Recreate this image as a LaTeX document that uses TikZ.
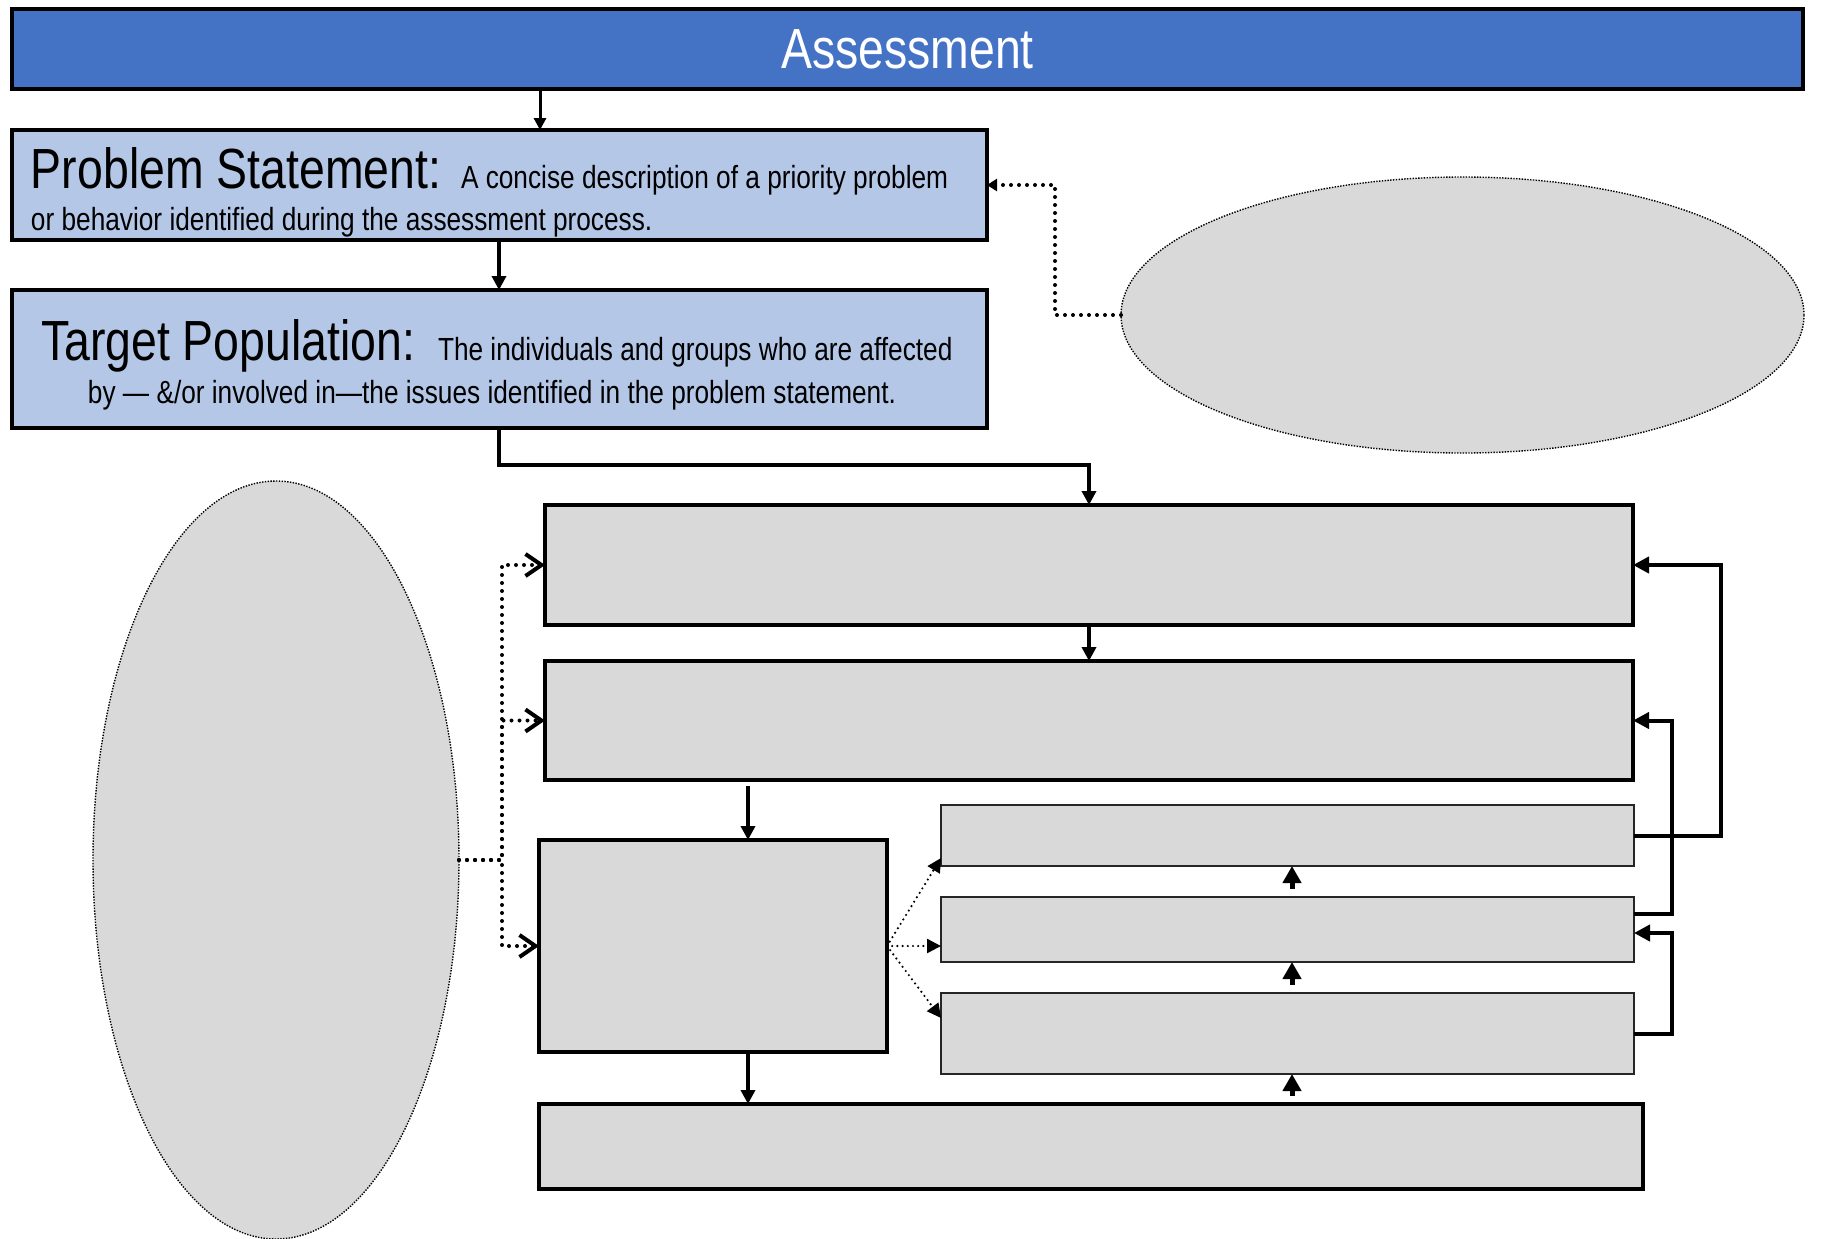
\documentclass[tikz,border=0pt]{standalone}
\usepackage{fontspec}
\setmainfont{Liberation Sans}[FakeStretch=0.82]
\usetikzlibrary{arrows.meta,shapes.geometric,calc}

\definecolor{hdrblue}{HTML}{4472C4}
\definecolor{paleblue}{HTML}{B4C7E7}
\definecolor{boxgray}{HTML}{D9D9D9}

\newcommand{\headfont}{\fontsize{28.3}{32}\selectfont}
\newcommand{\bodyfont}{\fontsize{16}{19}\selectfont}

\begin{document}
\begin{tikzpicture}[x=0.5pt,y=-0.5pt,
  frame/.style={draw=black, line width=1.8pt, inner sep=0pt, outer sep=0pt, anchor=north west},
  bluebox/.style={frame, fill=paleblue},
  graybox/.style={frame, fill=boxgray},
  slimbox/.style={frame, fill=boxgray, line width=1pt, draw=black!85},
  cloud/.style={ellipse, draw=black, fill=boxgray, line width=0.7pt,
    dash pattern=on 0.7pt off 0.7pt, inner sep=0pt, outer sep=0pt},
  txt/.style={inner sep=0pt, outer sep=0pt, anchor=base west},
  flow/.style={line width=1.5pt, -{Triangle[length=6pt,width=6pt]}},
  heavy/.style={line width=2pt, -{Triangle[length=7pt,width=7pt]}},
  loop/.style={line width=2pt, -{Triangle[length=8pt,width=8pt]}},
  stub/.style={line width=2.5pt, -{Triangle[length=8.5pt,width=9pt]}, shorten <=4pt},
  dots/.style={line cap=round, dash pattern=on 0pt off 4pt},
  fanout/.style={dots, line width=1.2pt, dash pattern=on 0pt off 2.6pt,
    -{Triangle[length=7pt,width=7pt]}},
  feed/.style={dots, line width=2pt, -{Straight Barb[length=8pt,width=11pt,line width=2pt]}},
  back/.style={dots, line width=2pt, -{Triangle[length=5pt,width=6pt]}}
]
\useasboundingbox[fill=white] (0,0) rectangle (1821,1238);

% header bar
\node[frame, fill=hdrblue, line width=2pt, minimum width=895.5pt, minimum height=40pt,
  text=white, font=\fontsize{28.3}{32}\selectfont] (bar) at (12,9) {Assessment};

% problem statement and target population
\node[bluebox, minimum width=487.5pt, minimum height=55pt] (ps) at (12,130) {};
\node[bluebox, minimum width=487.5pt, minimum height=69pt] (tp) at (12,290) {};

\node[txt] (pshead) at (31,188) {\headfont Problem Statement:};
\node[txt] (psbody1) at (461,188) {\bodyfont A concise description of a priority problem};
\node[txt] (psbody2) at (31,230) {\bodyfont or behavior identified during the assessment process.};

\node[txt] (tphead) at (41,360) {\headfont Target Population:};
\node[txt] (tpbody1) at (438,360) {\bodyfont The individuals and groups who are affected};
\node[txt, anchor=base] (tpbody2) at (492,403) {\bodyfont by — \&/or involved in—the issues identified in the problem statement.};

% lower blocks
\node[graybox, minimum width=544pt, minimum height=60pt] (b1) at (545,505) {};
\node[graybox, minimum width=544pt, minimum height=59.5pt] (b2) at (545,661) {};
\node[graybox, minimum width=174pt, minimum height=106pt] (b3) at (539,840) {};
\node[graybox, minimum width=552pt, minimum height=42.5pt] (bot) at (539,1104) {};

\node[slimbox, minimum width=346.5pt, minimum height=30.5pt] (sa) at (941,805) {};
\node[slimbox, minimum width=346.5pt, minimum height=32.5pt] (sb) at (941,897) {};
\node[slimbox, minimum width=346.5pt, minimum height=40.5pt] (sc) at (941,993) {};

% ellipses
\node[cloud, minimum width=183pt, minimum height=379pt] (lel) at (276,860) {};
\node[cloud, minimum width=341.5pt, minimum height=138pt] (rel) at (1462.5,315) {};

% helper columns
\coordinate (x540) at (540,0);
\coordinate (x499) at (499,0);
\coordinate (x748) at (748,0);
\coordinate (x1292) at (1292,0);
\coordinate (x1672) at (1672,0);
\coordinate (x1721) at (1721,0);
\coordinate (x502) at (502,0);
\coordinate (x1055) at (1055,0);

% main flow
\draw[flow] (bar.south -| x540) -- (ps.north -| x540);
\draw[heavy] (ps.south -| x499) -- (tp.north -| x499);
\draw[heavy] (tp.south -| x499) -- ++(0,37) -| (b1.north);
\draw[heavy] (b1.south) -- (b2.north);
\draw[heavy, shorten <=3pt] (b2.south -| x748) -- (b3.north -| x748);
\draw[heavy] (b3.south -| x748) -- (bot.north -| x748);

% short upward arrows in the stack
\draw[stub] (sb.north -| x1292) -- (sa.south -| x1292);
\draw[stub] (sc.north -| x1292) -- (sb.south -| x1292);
\draw[stub] (bot.north -| x1292) -- (sc.south -| x1292);

% return loops on the right
\coordinate (sbout) at ($(sb.east)+(0,-16)$);
\coordinate (sbin) at ($(sb.east)+(0,3.5)$);
\draw[loop] (sa.east) -- (sa.east -| x1721) |- (b1.east);
\draw[loop] (sbout) -- (sbout -| x1672) |- (b2.east);
\draw[loop] (sc.east) -- (sc.east -| x1672) |- (sbin);

% fan out from the left block
\draw[fanout] (b3.east) -- ($(sa.south west)+(0,-8)$);
\draw[fanout] (b3.east) -- (sb.west |- b3.east);
\draw[fanout] (b3.east) -- ($(sc.north west)+(0,25)$);

% dotted feeds from the ellipses
\draw[feed] (lel.east) -- (lel.east -| x502) |- (b1.west);
\draw[feed] (lel.east) -- (lel.east -| x502) |- (b2.west);
\draw[feed] (lel.east) -- (lel.east -| x502) |- (b3.west);
\draw[back] (rel.west) -- (rel.west -| x1055) |- (ps.east);
\end{tikzpicture}
\end{document}
